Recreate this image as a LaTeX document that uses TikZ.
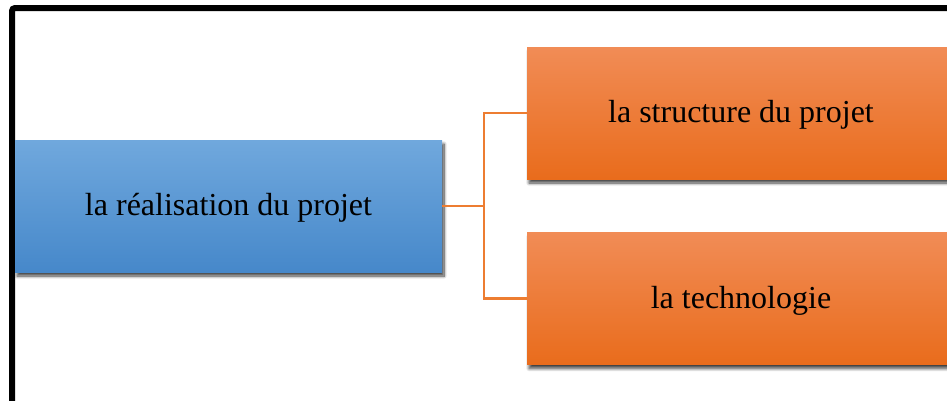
\documentclass[tikz,border=0pt]{standalone}
\usepackage{fontspec}
\setmainfont{Liberation Serif}
\usetikzlibrary{shadows,shadows.blur}
\definecolor{bluetop}{RGB}{112,168,221}
\definecolor{bluebot}{RGB}{70,136,202}
\definecolor{orangetop}{RGB}{241,140,86}
\definecolor{orangebot}{RGB}{233,108,28}
\definecolor{linkorange}{RGB}{237,125,49}
\tikzset{
  boxbase/.style={rectangle, inner sep=0pt, minimum height=132pt,
    text height=25pt, text depth=6pt,
    font=\fontsize{32}{38}\selectfont, text=black,
    blur shadow={shadow xshift=2pt, shadow yshift=-4pt, shadow blur radius=3pt,
      shadow blur steps=10, shadow opacity=75}},
  bluebox/.style={boxbase, minimum width=427pt, top color=bluetop, bottom color=bluebot},
  orangebox/.style={boxbase, minimum width=428pt, top color=orangetop, bottom color=orangebot},
  link/.style={draw=linkorange, line width=2.4pt},
  frame/.style={draw=black, line width=6pt, rounded corners=3pt}
}
\begin{document}
\begin{tikzpicture}[x=1pt, y=-1pt]
\useasboundingbox (0,0) rectangle (947,400);
\clip (0,0) rectangle (947,400);
\draw[frame] (12,8) rectangle (1000,460);
\node[bluebox] (real) at (228.5,206) {la réalisation du projet};
\node[orangebox] (struct) at (741,113) {la structure du projet};
\node[orangebox] (tech) at (741,298.5) {la technologie};
\coordinate (junc) at (484,206);
\draw[link] (real.east) -- (junc);
\draw[link] (struct.west) -| (junc) |- (tech.west);
\end{tikzpicture}
\end{document}
